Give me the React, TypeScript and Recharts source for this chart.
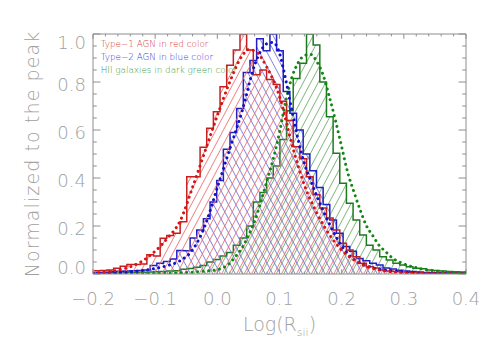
import React from 'react';
import { ComposedChart, Area, Line, XAxis, YAxis, ReferenceLine } from 'recharts';

// ---- histogram binning ----
const binWidth = 0.0107;
const redGreenFirstEdge = -0.19894;
const blueFirstEdge = -0.20429;

// Type-1 AGN (red) normalized counts per bin
const type1Counts = [
  0.014, 0.015, 0.017, 0.024, 0.032, 0.04, 0.04, 0.042, 0.08, 0.075,
  0.149, 0.16, 0.17, 0.218, 0.405, 0.405, 0.528, 0.607, 0.676, 0.78,
  0.87, 0.933, 1.0, 0.933, 0.83, 0.85, 0.81, 0.79, 0.72, 0.64,
  0.53, 0.48, 0.405, 0.33, 0.275, 0.233, 0.183, 0.128, 0.1, 0.072,
  0.045, 0.03, 0.025, 0.017, 0.012, 0.01, 0.008, 0.006, 0.005, 0.004,
  0.003, 0.003, 0.002, 0.002, 0.001, 0.001,
];

// Type-2 AGN (blue) normalized counts per bin
const type2Counts = [
  0.005, 0.006, 0.007, 0.009, 0.011, 0.013, 0.014, 0.015, 0.017, 0.035,
  0.045, 0.052, 0.062, 0.098, 0.097, 0.15, 0.183, 0.23, 0.3, 0.39,
  0.52, 0.59, 0.69, 0.84, 0.89, 0.98, 0.93, 1.0, 0.93, 0.76,
  0.67, 0.6, 0.5, 0.43, 0.36, 0.29, 0.225, 0.17, 0.115, 0.095,
  0.065, 0.055, 0.045, 0.037, 0.025, 0.021, 0.016, 0.013, 0.01, 0.008,
  0.006, 0.005, 0.004, 0.003, 0.003, 0.002, 0.002,
];

// HII galaxies (green) normalized counts per bin
const hiiCounts = [
  0.004, 0.004, 0.005, 0.005, 0.006, 0.006, 0.007, 0.007, 0.008, 0.009,
  0.01, 0.012, 0.014, 0.02, 0.023, 0.028, 0.035, 0.05, 0.06, 0.075,
  0.09, 0.12, 0.15, 0.2, 0.3, 0.34, 0.4, 0.45, 0.56, 0.68,
  0.815, 0.878, 1.0, 0.954, 0.8, 0.655, 0.503, 0.378, 0.295, 0.225,
  0.163, 0.12, 0.1, 0.072, 0.058, 0.045, 0.037, 0.03, 0.024, 0.022,
  0.017, 0.015, 0.012, 0.01, 0.009, 0.008,
];

// ---- fitted curves (dotted) ----
const type1FitX = [-0.2, -0.18, -0.16, -0.14, -0.12, -0.1, -0.08, -0.06, -0.04, -0.02, 0, 0.02, 0.04, 0.05, 0.06, 0.08, 0.1, 0.12, 0.14, 0.16, 0.18, 0.2, 0.22, 0.24, 0.26, 0.28, 0.3, 0.33, 0.36, 0.4];
const type1FitY = [0.004, 0.008, 0.016, 0.03, 0.055, 0.095, 0.15, 0.22, 0.36, 0.51, 0.66, 0.8, 0.91, 0.935, 0.93, 0.86, 0.74, 0.54, 0.37, 0.255, 0.165, 0.1, 0.058, 0.031, 0.017, 0.009, 0.005, 0.002, 0.001, 0.0005];

const type2FitX = [-0.2, -0.16, -0.14, -0.12, -0.1, -0.08, -0.06, -0.04, -0.02, 0, 0.02, 0.04, 0.06, 0.07, 0.08, 0.09, 0.1, 0.11, 0.12, 0.13, 0.14, 0.15, 0.16, 0.17, 0.18, 0.19, 0.2, 0.21, 0.22, 0.23, 0.25, 0.28, 0.31, 0.34, 0.4];
const type2FitY = [0.001, 0.004, 0.008, 0.015, 0.023, 0.035, 0.055, 0.1, 0.2, 0.36, 0.52, 0.68, 0.87, 0.93, 0.96, 0.965, 0.92, 0.81, 0.68, 0.56, 0.46, 0.39, 0.325, 0.265, 0.21, 0.16, 0.115, 0.085, 0.06, 0.045, 0.026, 0.013, 0.006, 0.003, 0.001];

const hiiFitX = [-0.2, -0.1, -0.05, -0.02, 0, 0.02, 0.03, 0.04, 0.05, 0.06, 0.07, 0.08, 0.09, 0.1, 0.11, 0.12, 0.13, 0.14, 0.15, 0.16, 0.17, 0.18, 0.19, 0.2, 0.21, 0.22, 0.23, 0.24, 0.25, 0.26, 0.27, 0.28, 0.3, 0.33, 0.36, 0.4];
const hiiFitY = [0.0005, 0.002, 0.006, 0.012, 0.018, 0.045, 0.075, 0.11, 0.16, 0.22, 0.3, 0.39, 0.48, 0.59, 0.72, 0.82, 0.88, 0.91, 0.915, 0.885, 0.83, 0.74, 0.64, 0.53, 0.42, 0.34, 0.265, 0.2, 0.16, 0.12, 0.095, 0.07, 0.042, 0.021, 0.01, 0.005];

// ---- ticks ----
const xMajorTicks = [-0.2, -0.1, 0, 0.1, 0.2, 0.3, 0.4];
const xTickLabels = ['\u22120.2', '\u22120.1', '0.0', '0.1', '0.2', '0.3', '0.4'];
const xMinorTicks = [-0.18, -0.16, -0.14, -0.12, -0.08, -0.06, -0.04, -0.02, 0.02, 0.04, 0.06, 0.08, 0.12, 0.14, 0.16, 0.18, 0.22, 0.24, 0.26, 0.28, 0.32, 0.34, 0.36, 0.38];
const yMajorTicks = [0, 0.2, 0.4, 0.6, 0.8, 1.0];
const yTickLabels = ['0.0', '0.2', '0.4', '0.6', '0.8', '1.0'];
const yMinorTicks = [0.05, 0.1, 0.15, 0.25, 0.3, 0.35, 0.45, 0.5, 0.55, 0.65, 0.7, 0.75, 0.85, 0.9, 0.95];

const legendLines = [
  { text: 'Type\u22121 AGN in red color', color: '#d63c3c' },
  { text: 'Type\u22122 AGN in blue color', color: '#3c3cd6' },
  { text: 'HII galaxies in dark green color', color: '#3f9a3f' },
];

const AXIS = '#8e8e8e';
const TEXT = '#a0a0a0';
const FONT = "'DejaVu Sans', sans-serif";

function toSteps(first: number, counts: number[]) {
  const pts = counts.map((v, i) => ({ x: first + i * binWidth, y: v }));
  pts.push({ x: first + counts.length * binWidth, y: counts[counts.length - 1] });
  return pts;
}
function toPts(xs: number[], ys: number[]) {
  return xs.map((x, i) => ({ x, y: ys[i] }));
}

const redSteps = toSteps(redGreenFirstEdge, type1Counts);
const blueSteps = toSteps(blueFirstEdge, type2Counts);
const greenSteps = toSteps(redGreenFirstEdge, hiiCounts);
const redFit = toPts(type1FitX, type1FitY);
const blueFit = toPts(type2FitX, type2FitY);
const greenFit = toPts(hiiFitX, hiiFitY);

const XTick = (props: any) => {
  const { x, y, payload } = props;
  const idx = xMajorTicks.findIndex((t) => Math.abs(t - payload.value) < 1e-9);
  return (
    <text x={x} y={y} dy={30.5} textAnchor="middle" fontFamily={FONT} fontSize={18} fontWeight={200} fill={TEXT}>
      {idx >= 0 ? xTickLabels[idx] : ''}
    </text>
  );
};

const YTick = (props: any) => {
  const { x, y, payload } = props;
  const idx = yMajorTicks.findIndex((t) => Math.abs(t - payload.value) < 1e-9);
  const v = payload.value;
  const dy = v < 0.01 ? 0 : v > 0.99 ? 15 : 8.5;
  return (
    <text x={x} y={y} dy={dy} textAnchor="end" fontFamily={FONT} fontSize={18} fontWeight={200} fill={TEXT}>
      {idx >= 0 ? yTickLabels[idx] : ''}
    </text>
  );
};

const XTitle = (props: any) => {
  const vb = props.viewBox || { x: 85, y: 266, width: 373, height: 60 };
  const cx = vb.x + vb.width / 2;
  return (
    <g>
      <defs>
        <pattern id="hatchRed" patternUnits="userSpaceOnUse" width="6.6" height="12" patternTransform="rotate(28)">
          <line x1="3.3" y1="-1" x2="3.3" y2="13" stroke="#ec6a6a" strokeWidth="0.8" />
        </pattern>
        <pattern id="hatchBlue" patternUnits="userSpaceOnUse" width="6.6" height="12" patternTransform="rotate(-28)">
          <line x1="3.3" y1="-1" x2="3.3" y2="13" stroke="#6e6edc" strokeWidth="0.8" />
        </pattern>
        <pattern id="hatchGreen" patternUnits="userSpaceOnUse" width="6.6" height="12" patternTransform="rotate(28) translate(2,0)">
          <line x1="3.3" y1="-1" x2="3.3" y2="13" stroke="#68aa68" strokeWidth="0.8" />
        </pattern>
      </defs>
      <text x={cx} y={vb.y + 57} textAnchor="middle" fontFamily={FONT} fontSize={19} fontWeight={200} fill={TEXT}>
        Log(R<tspan fontSize={11} dy={5}>sii</tspan><tspan dy={-5}>)</tspan>
      </text>
    </g>
  );
};

const YTitle = (props: any) => {
  const vb = props.viewBox || { x: 25, y: 26, width: 60, height: 240 };
  const bx = vb.x + 5.5;
  const cy = vb.y + vb.height / 2;
  const lx = vb.x + vb.width + 7.7;
  return (
    <g>
      <text
        x={bx}
        y={cy}
        transform={`rotate(-90, ${bx}, ${cy})`}
        textAnchor="middle"
        fontFamily={FONT}
        fontSize={19}
        fontWeight={200}
        letterSpacing={1.1}
        fill={TEXT}
      >
        Normalized to the peak
      </text>
      {legendLines.map((l, i) => (
        <text key={i} x={lx} y={vb.y + 12.5 + i * 13} fontFamily={FONT} fontSize={8.8} fontWeight={200} fill={l.color}>
          {l.text}
        </text>
      ))}
    </g>
  );
};

export default function App() {
  return (
    <div style={{ width: 496, height: 334 }}>
      <ComposedChart width={496} height={334} margin={{ top: 26, right: 38, left: 25, bottom: 8 }}>
        <XAxis
          type="number"
          dataKey="x"
          domain={[-0.2, 0.4]}
          ticks={xMajorTicks}
          allowDataOverflow
          height={60}
          tickLine={false}
          tickSize={0}
          tickMargin={0}
          axisLine={{ stroke: AXIS, strokeWidth: 1 }}
          tick={<XTick />}
          interval={0}
          label={<XTitle />}
        />
        <YAxis
          type="number"
          dataKey="y"
          domain={[0, 1]}
          ticks={yMajorTicks}
          allowDataOverflow
          width={60}
          tickLine={false}
          tickSize={0}
          tickMargin={7}
          axisLine={{ stroke: AXIS, strokeWidth: 1 }}
          tick={<YTick />}
          interval={0}
          label={<YTitle />}
        />

        <ReferenceLine y={1} stroke={AXIS} strokeWidth={1} ifOverflow="visible" />
        <ReferenceLine x={0.4} stroke={AXIS} strokeWidth={1} ifOverflow="visible" />

        {xMajorTicks.map((t) => (
          <ReferenceLine key={`xb${t}`} segment={[{ x: t, y: 0 }, { x: t, y: 0.02 }]} stroke={AXIS} ifOverflow="visible" />
        ))}
        {xMajorTicks.map((t) => (
          <ReferenceLine key={`xt${t}`} segment={[{ x: t, y: 1 }, { x: t, y: 0.98 }]} stroke={AXIS} ifOverflow="visible" />
        ))}
        {xMinorTicks.map((t) => (
          <ReferenceLine key={`xbm${t}`} segment={[{ x: t, y: 0 }, { x: t, y: 0.01 }]} stroke={AXIS} ifOverflow="visible" />
        ))}
        {xMinorTicks.map((t) => (
          <ReferenceLine key={`xtm${t}`} segment={[{ x: t, y: 1 }, { x: t, y: 0.99 }]} stroke={AXIS} ifOverflow="visible" />
        ))}
        {yMajorTicks.map((t) => (
          <ReferenceLine key={`yl${t}`} segment={[{ x: -0.2, y: t }, { x: -0.188, y: t }]} stroke={AXIS} ifOverflow="visible" />
        ))}
        {yMajorTicks.map((t) => (
          <ReferenceLine key={`yr${t}`} segment={[{ x: 0.4, y: t }, { x: 0.388, y: t }]} stroke={AXIS} ifOverflow="visible" />
        ))}
        {yMinorTicks.map((t) => (
          <ReferenceLine key={`ylm${t}`} segment={[{ x: -0.2, y: t }, { x: -0.194, y: t }]} stroke={AXIS} ifOverflow="visible" />
        ))}
        {yMinorTicks.map((t) => (
          <ReferenceLine key={`yrm${t}`} segment={[{ x: 0.4, y: t }, { x: 0.394, y: t }]} stroke={AXIS} ifOverflow="visible" />
        ))}

        <Area data={greenSteps} dataKey="y" type="stepAfter" stroke="#1f7a1f" strokeWidth={1.5} fill="url(#hatchGreen)" fillOpacity={1} isAnimationActive={false} dot={false} activeDot={false} />
        <Area data={blueSteps} dataKey="y" type="stepAfter" stroke="#2020c4" strokeWidth={1.5} fill="url(#hatchBlue)" fillOpacity={1} isAnimationActive={false} dot={false} activeDot={false} />
        <Area data={redSteps} dataKey="y" type="stepAfter" stroke="#c42020" strokeWidth={1.5} fill="url(#hatchRed)" fillOpacity={1} isAnimationActive={false} dot={false} activeDot={false} />

        <Line data={greenFit} dataKey="y" type="monotone" stroke="#118811" strokeWidth={3} strokeDasharray="0.01 5.5" strokeLinecap="round" dot={false} activeDot={false} isAnimationActive={false} />
        <Line data={blueFit} dataKey="y" type="monotone" stroke="#1111cc" strokeWidth={3} strokeDasharray="0.01 5.5" strokeLinecap="round" dot={false} activeDot={false} isAnimationActive={false} />
        <Line data={redFit} dataKey="y" type="monotone" stroke="#dd1111" strokeWidth={3} strokeDasharray="0.01 5.5" strokeLinecap="round" dot={false} activeDot={false} isAnimationActive={false} />
      </ComposedChart>
    </div>
  );
}
